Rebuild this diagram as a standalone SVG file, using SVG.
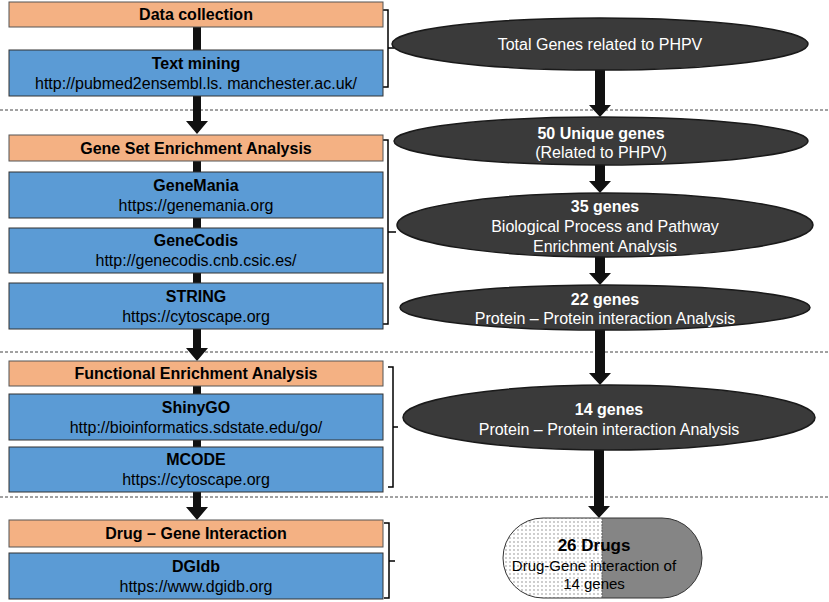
<svg xmlns="http://www.w3.org/2000/svg" width="829" height="602" viewBox="0 0 829 602">
<defs>
<pattern id="dots" width="4" height="4" patternUnits="userSpaceOnUse">
<rect width="4" height="4" fill="#ffffff"/>
<circle cx="2" cy="2" r="0.7" fill="#777"/>
</pattern>
<clipPath id="capL"><rect x="500" y="515" width="102" height="86"/></clipPath>
<clipPath id="capR"><rect x="602" y="515" width="104" height="86"/></clipPath>
</defs>
<style>
.hdr{fill:#F4B183;stroke:#555;stroke-width:1}
.tool{fill:#5B9BD5;stroke:#333;stroke-width:1}
.ell{fill:#3A3A3A;stroke:#1a1a1a;stroke-width:1.5}
.bt{font-family:"Liberation Sans",Arial,sans-serif;font-size:16px;font-weight:bold;fill:#000;text-anchor:middle}
.rt{font-family:"Liberation Sans",Arial,sans-serif;font-size:16px;fill:#000;text-anchor:middle}
.wb{font-family:"Liberation Sans",Arial,sans-serif;font-size:16px;font-weight:bold;fill:#fff;text-anchor:middle}
.wt{font-family:"Liberation Sans",Arial,sans-serif;font-size:16px;fill:#fff;text-anchor:middle}
.arr{fill:#111}
.brk{fill:none;stroke:#000;stroke-width:1.5}
.dash{stroke:#444;stroke-width:1;stroke-dasharray:3,2}
</style>

<g id="connectors">
<line class="dash" x1="0" y1="110" x2="829" y2="110"/>
<line class="dash" x1="0" y1="352" x2="829" y2="352"/>
<line class="dash" x1="0" y1="497" x2="829" y2="497"/>
<rect class="arr" x="193" y="27" width="8" height="23"/>
<path class="arr" d="M193,96 H201 V121 H208 L197,134 L186,121 H193 Z"/>
<rect class="arr" x="193" y="161" width="8" height="11"/>
<rect class="arr" x="193" y="218" width="8" height="10"/>
<rect class="arr" x="193" y="273" width="8" height="10"/>
<path class="arr" d="M193,329 H201 V348 H208 L197,361 L186,348 H193 Z"/>
<rect class="arr" x="193" y="386" width="8" height="8"/>
<rect class="arr" x="193" y="440" width="8" height="7"/>
<path class="arr" d="M193,492 H201 V507 H208 L197,520 L186,507 H193 Z"/>
<path class="arr" d="M595,70 H605 V105 H611 L600,117 L589,105 H595 Z"/>
<path class="arr" d="M595,165 H605 V181 H611 L600,193 L589,181 H595 Z"/>
<path class="arr" d="M595,257 H605 V273 H611 L600,285 L589,273 H595 Z"/>
<path class="arr" d="M595,330 H605 V373 H611 L600,385 L589,373 H595 Z"/>
<path class="arr" d="M594,450 H604 V506 H610 L599,518 L588,506 H594 Z"/>
<path class="brk" d="M383,10 H388 V87 H383 M388,48 H394"/>
<path class="brk" d="M383,140 H388 V324 H383 M388,232 H396"/>
<path class="brk" d="M388,367 H393 V487 H388 M393,427 H398"/>
<path class="brk" d="M384,523 H389 V598 H384 M389,561 H395"/>
</g>

<g id="data-collection">
<rect class="hdr" x="9" y="2" width="374" height="25"/>
<text class="bt" x="196" y="20">Data collection</text>
</g>
<g id="text-mining">
<rect class="tool" x="9" y="50" width="374" height="46"/>
<text class="bt" x="196" y="69">Text mining</text>
<text class="rt" x="196" y="89">http://pubmed2ensembl.ls. manchester.ac.uk/</text>
</g>
<g id="gsea">
<rect class="hdr" x="9" y="135" width="374" height="26"/>
<text class="bt" x="196" y="154">Gene Set Enrichment Analysis</text>
</g>
<g id="genemania">
<rect class="tool" x="9" y="172" width="374" height="46"/>
<text class="bt" x="196" y="191">GeneMania</text>
<text class="rt" x="196" y="211">https://genemania.org</text>
</g>
<g id="genecodis">
<rect class="tool" x="9" y="228" width="374" height="45"/>
<text class="bt" x="196" y="246">GeneCodis</text>
<text class="rt" x="196" y="266">http://genecodis.cnb.csic.es/</text>
</g>
<g id="string">
<rect class="tool" x="9" y="283" width="374" height="46"/>
<text class="bt" x="196" y="302">STRING</text>
<text class="rt" x="196" y="322">https://cytoscape.org</text>
</g>
<g id="fea">
<rect class="hdr" x="9" y="361" width="374" height="25"/>
<text class="bt" x="196" y="379">Functional Enrichment Analysis</text>
</g>
<g id="shinygo">
<rect class="tool" x="9" y="394" width="374" height="46"/>
<text class="bt" x="196" y="413">ShinyGO</text>
<text class="rt" x="196" y="433">http://bioinformatics.sdstate.edu/go/</text>
</g>
<g id="mcode">
<rect class="tool" x="9" y="447" width="374" height="45"/>
<text class="bt" x="196" y="465">MCODE</text>
<text class="rt" x="196" y="485">https://cytoscape.org</text>
</g>
<g id="dgi">
<rect class="hdr" x="9" y="520" width="374" height="27"/>
<text class="bt" x="196" y="539">Drug – Gene Interaction</text>
</g>
<g id="dgidb">
<rect class="tool" x="9" y="553" width="374" height="46"/>
<text class="bt" x="196" y="572">DGIdb</text>
<text class="rt" x="196" y="592">https://www.dgidb.org</text>
</g>

<g id="total-genes">
<ellipse class="ell" cx="600" cy="44" rx="208" ry="26"/>
<text class="wt" x="600" y="50">Total Genes related to PHPV</text>
</g>
<g id="genes-50">
<ellipse class="ell" cx="601" cy="141" rx="207" ry="24"/>
<text class="wb" x="601" y="139">50 Unique genes</text>
<text class="wt" x="601" y="158">(Related to PHPV)</text>
</g>
<g id="genes-35">
<ellipse class="ell" cx="605" cy="225" rx="208" ry="32"/>
<text class="wb" x="605" y="212">35 genes</text>
<text class="wt" x="605" y="232">Biological Process and Pathway</text>
<text class="wt" x="605" y="252">Enrichment Analysis</text>
</g>
<g id="genes-22">
<ellipse class="ell" cx="605" cy="307.5" rx="205" ry="22.5"/>
<text class="wb" x="605" y="305">22 genes</text>
<text class="wt" x="605" y="324">Protein – Protein interaction Analysis</text>
</g>
<g id="genes-14">
<ellipse class="ell" cx="609" cy="417.5" rx="206" ry="32.5"/>
<text class="wb" x="609" y="415">14 genes</text>
<text class="wt" x="609" y="435">Protein – Protein interaction Analysis</text>
</g>
<g id="drugs-26">
<rect x="503" y="518" width="199" height="80" rx="40" ry="40" fill="url(#dots)" clip-path="url(#capL)"/>
<rect x="503" y="518" width="199" height="80" rx="40" ry="40" fill="#858585" clip-path="url(#capR)"/>
<rect x="503" y="518" width="199" height="80" rx="40" ry="40" fill="none" stroke="#333" stroke-width="1"/>
<line x1="602" y1="518" x2="602" y2="598" stroke="#555" stroke-width="0.8" stroke-dasharray="2,1"/>
<text class="bt" x="594" y="551" style="font-size:17px">26 Drugs</text>
<text class="rt" x="594" y="571" style="font-size:15px">Drug-Gene interaction of</text>
<text class="rt" x="594" y="589" style="font-size:15px">14 genes</text>
</g>
</svg>
